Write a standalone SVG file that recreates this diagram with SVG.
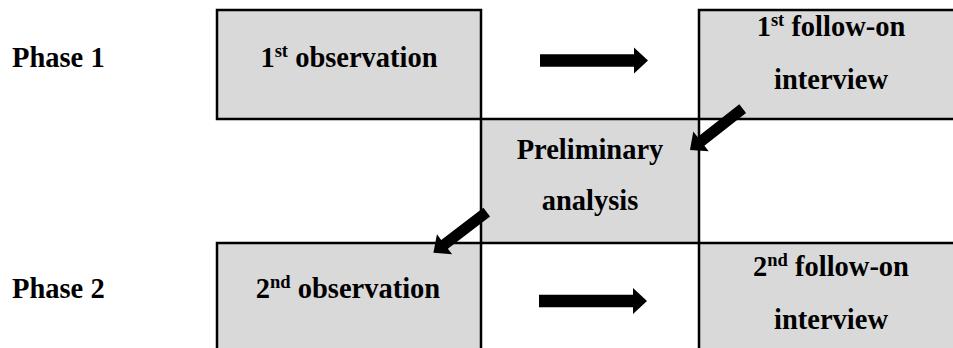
<svg xmlns="http://www.w3.org/2000/svg" xmlns:xlink="http://www.w3.org/1999/xlink" width="953" height="348" viewBox="0 0 953 348">
<style>
.box{fill:#d9d9d9;stroke:#000;stroke-width:2.5}
.t{font-family:"Liberation Serif","Times New Roman",serif;font-weight:bold;font-size:28.5px;fill:#000;text-anchor:middle}
.lab{font-family:"Liberation Serif","Times New Roman",serif;font-weight:bold;font-size:28.5px;fill:#000}
.sup{font-size:18.5px}
.arr{fill:#000}
</style>
<defs>
<path id="arrowH" d="M0,-6.2 H94 V-13 L108,0 L94,13 V6.2 H0 Z"/>
<path id="arrowD" d="M0,-5.5 H53 V-12.5 L67,0 L53,12.5 V5.5 H0 Z"/>
</defs>
<rect width="953" height="348" fill="#fff"/>
<g id="phase1"><text class="lab" x="12" y="66.5">Phase 1</text></g>
<g id="phase2"><text class="lab" x="12" y="298">Phase 2</text></g>
<g id="obs1">
<rect class="box" x="217" y="10" width="264" height="109"/>
<text class="t" x="349" y="66.5">1<tspan class="sup" dy="-10">st</tspan><tspan dy="10"> observation</tspan></text>
</g>
<g id="follow1">
<rect class="box" x="699" y="10" width="270" height="109"/>
<text class="t" x="831" y="36">1<tspan class="sup" dy="-10">st</tspan><tspan dy="10"> follow-on</tspan></text>
<text class="t" x="831" y="89">interview</text>
</g>
<g id="prelim">
<rect class="box" x="481" y="119" width="218" height="124"/>
<text class="t" x="590" y="159">Preliminary</text>
<text class="t" x="590" y="210">analysis</text>
</g>
<g id="obs2">
<rect class="box" x="217" y="243" width="264" height="120"/>
<text class="t" x="348" y="298">2<tspan class="sup" dy="-10">nd</tspan><tspan dy="10"> observation</tspan></text>
</g>
<g id="follow2">
<rect class="box" x="699" y="243" width="270" height="120"/>
<text class="t" x="831" y="276">2<tspan class="sup" dy="-10">nd</tspan><tspan dy="10"> follow-on</tspan></text>
<text class="t" x="831" y="329">interview</text>
</g>
<g id="connectors" class="arr">
<use xlink:href="#arrowH" transform="translate(540,60.5)"/>
<use xlink:href="#arrowH" transform="translate(539,301)"/>
<use xlink:href="#arrowD" transform="translate(742.7,108.7) rotate(141.9)"/>
<use xlink:href="#arrowD" transform="translate(486.7,212.2) rotate(142.7)"/>
</g>
</svg>
